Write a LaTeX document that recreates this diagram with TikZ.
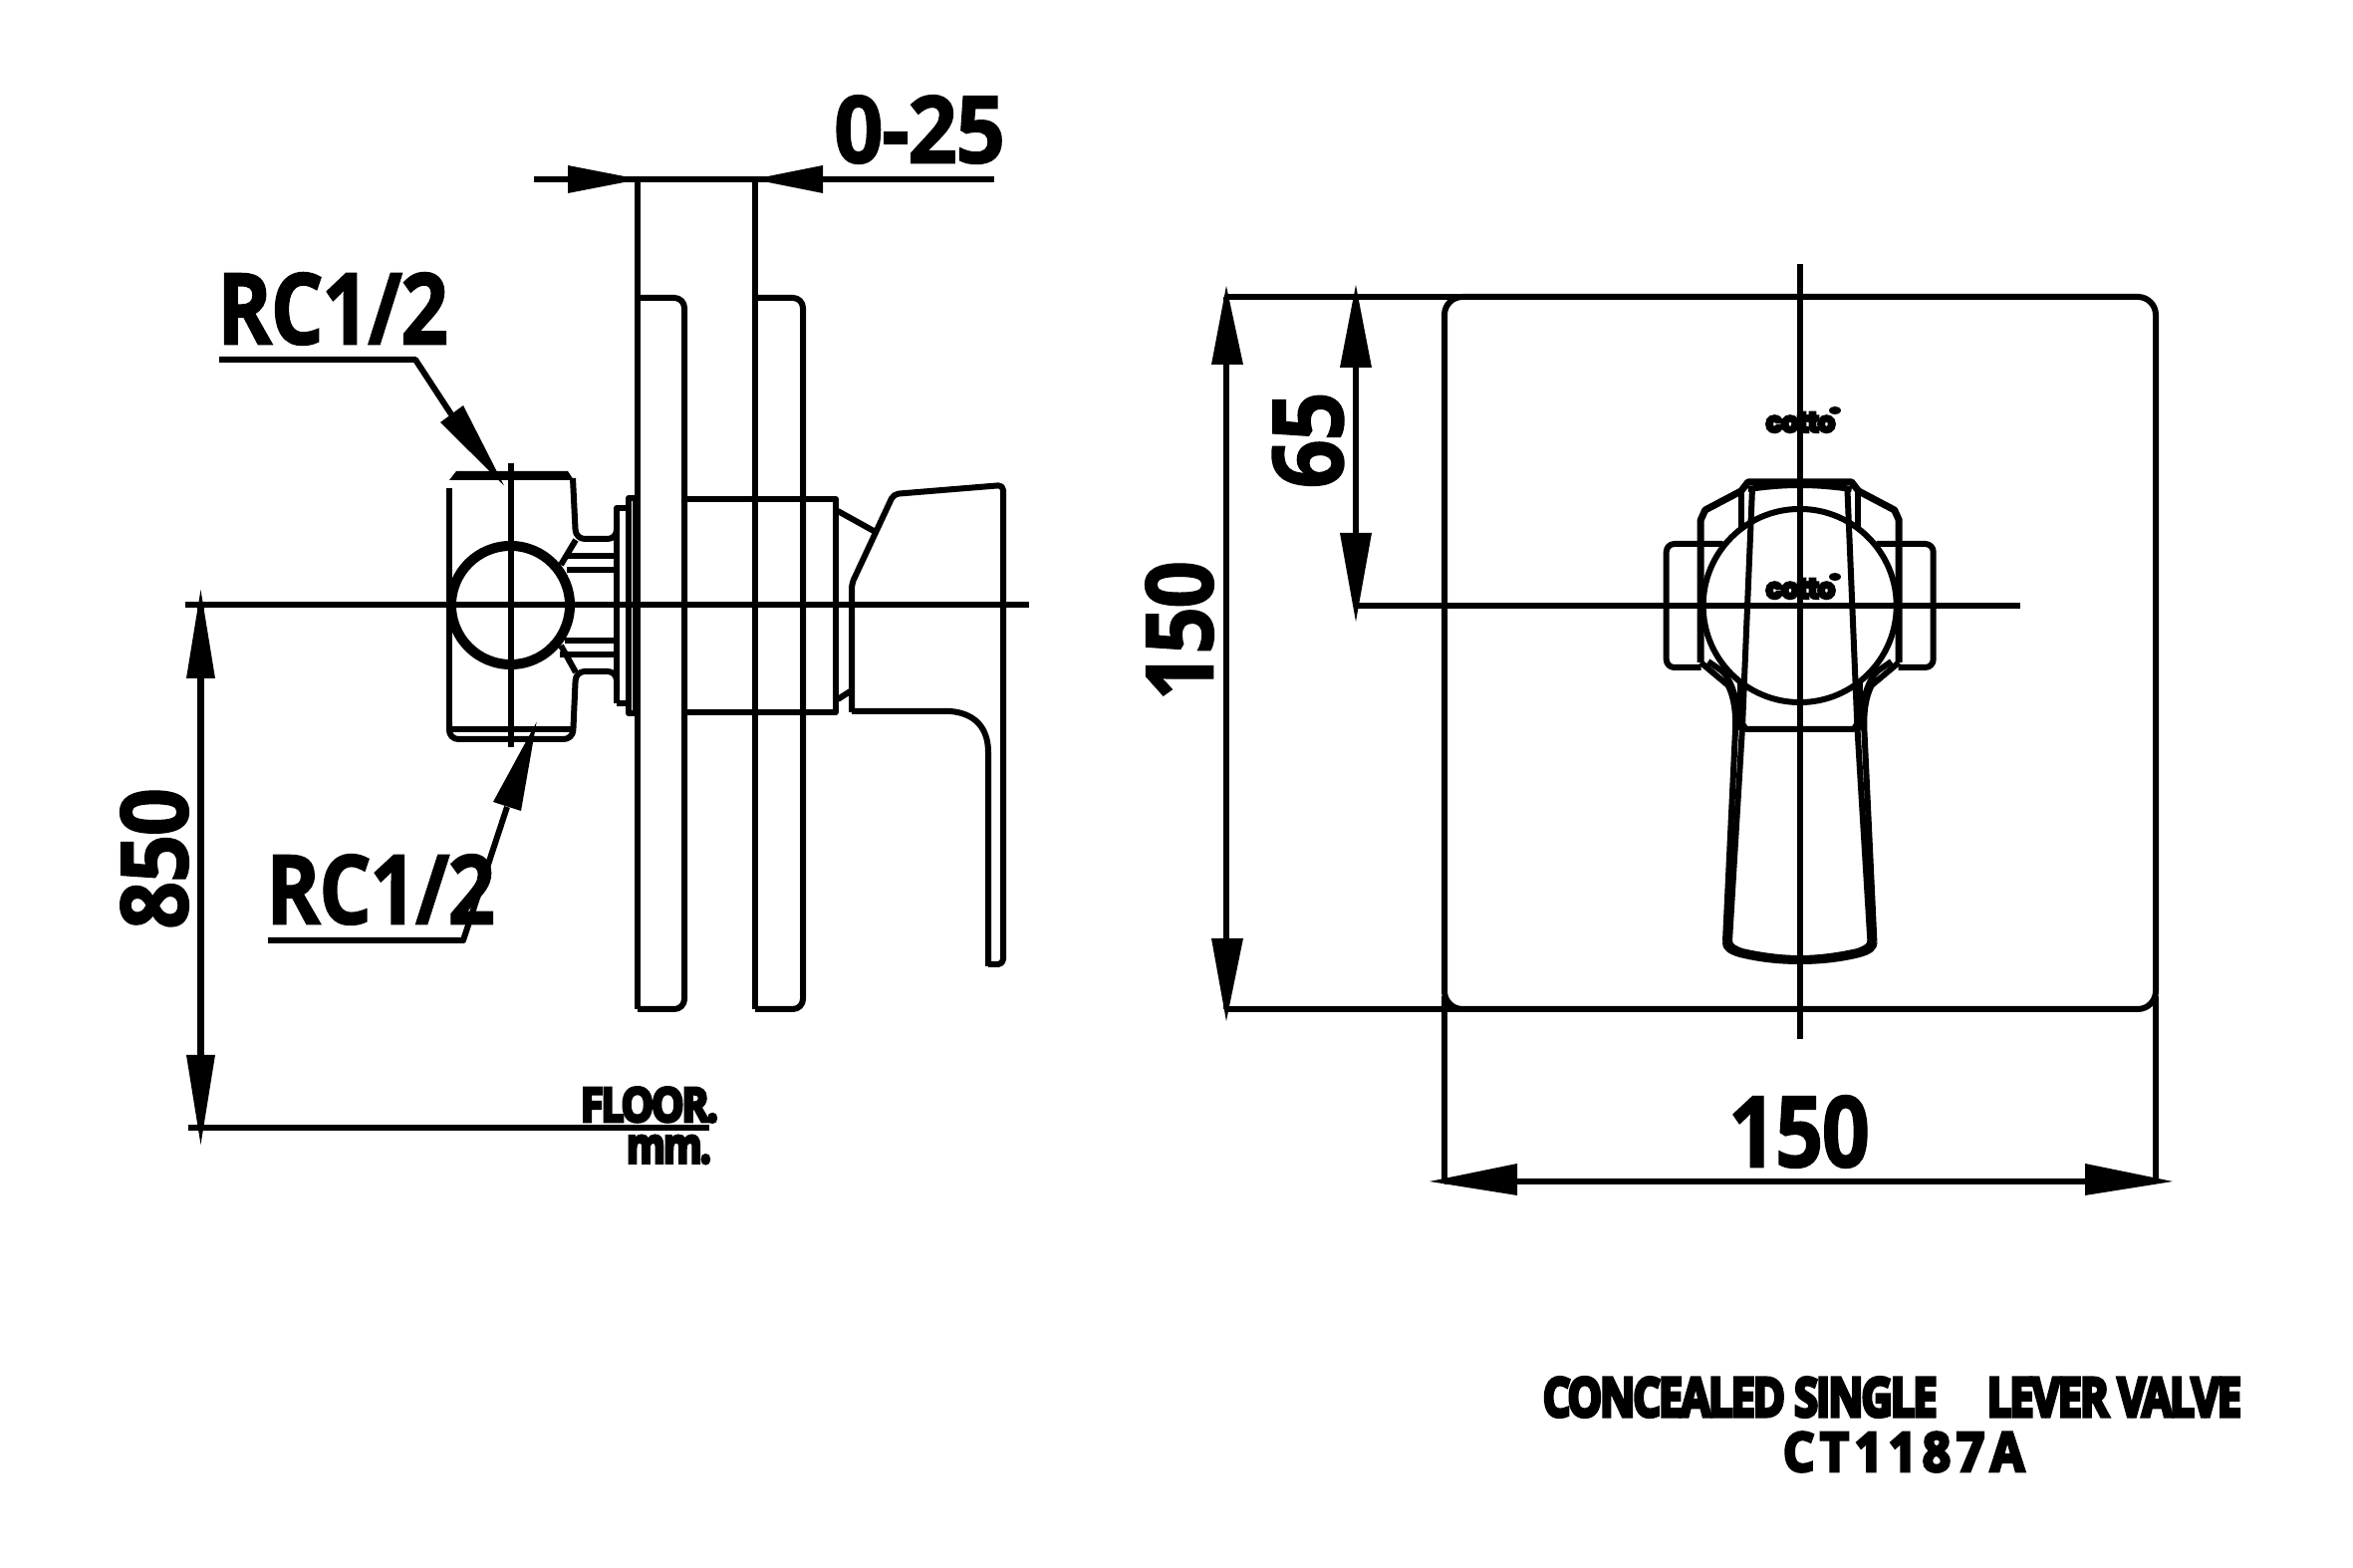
\documentclass[tikz,border=0pt]{standalone}
\usepackage{fontspec}
\setmainfont{Open Sans}
\newfontfamily\dimfont[BoldFeatures={FakeBold=1.5,LetterSpace=-2}]{Open Sans}
\newfontfamily\heavyfont[BoldFeatures={FakeBold=7,LetterSpace=-5}]{Open Sans}
\newfontfamily\wideheavy[BoldFeatures={FakeBold=6,LetterSpace=12}]{Open Sans}
\newfontfamily\logofont[BoldFeatures={FakeBold=12,LetterSpace=-3}]{Poppins}
\newcommand{\fit}[3]{\resizebox{#1cm}{#2cm}{#3}}
\tikzset{
  ln/.style={line width=0.06cm,line join=round,black},
  thin line/.style={line width=0.025cm,black},
  head/.style={fill=black,draw=none},
  label/.style={inner sep=0pt,outer sep=0pt,font=\dimfont\bfseries,text=black},
}
\begin{document}
\begin{tikzpicture}[x=0.01cm,y=-0.01cm]
\useasboundingbox[fill=white] (0,0) rectangle (2362,1574);

% ---------- left view: centre lines ----------
\draw[ln] (186,607.5) -- (1033,607.5);
\draw[ln] (512.5,465) -- (512.5,750);

% junction box with neck and flange
\draw[ln] (451,490) -- (451,730);
\draw[ln] (451,732) -- (576,732);
\fill[black] (451,482) -- (458,473) -- (570,473) -- (576,482) -- cycle;
\draw[ln,rounded corners=0.09cm] (575,480) -- (578,541) -- (619,541) -- (619,520);
\draw[ln,rounded corners=0.09cm] (451,725) -- (451,742) -- (575,742) -- (578,674) -- (619,674) -- (619,695);
\draw[ln] (619,706) -- (619,510) -- (631,510);
\draw[ln] (619,706) -- (631,706);
\draw[ln] (640,500) -- (631,500) -- (631,716) -- (640,716);
\draw[line width=0.1cm,black] (512.5,607.5) circle[radius=0.595cm];
\draw[thin line] (636,500) -- (636,716);
\draw[ln] (567,558) -- (618,558);
\draw[ln] (569,572.5) -- (618,572.5);
\draw[ln] (567,643) -- (618,643);
\draw[ln] (562,657.5) -- (618,657.5);
\draw[ln] (578,542) -- (563,567);
\draw[ln] (563,648) -- (578,675);

% plates
\draw[ln] (640,180) -- (640,1013);
\draw[ln,rounded corners=0.1cm] (640,299) -- (687,299) -- (687,1013) -- (640,1013);
\draw[ln] (758,180) -- (758,1013);
\draw[ln,rounded corners=0.1cm] (758,299) -- (806,299) -- (806,1013) -- (758,1013);

% body and lever
\draw[ln] (687,501) -- (839,501) -- (839,715) -- (687,715);
\draw[ln] (841,513) -- (877,533);
\draw[ln] (841,702) -- (855,693);
\draw[ln,rounded corners=0.05cm] (855,715) -- (855,586) -- (897,496) -- (1007,487) -- (1007,968) -- (992,968);
\draw[ln] (855,714) -- (954,714) .. controls (978,716) and (992,730) .. (992,755) -- (992,970);

% ---------- left view: dimensions ----------
\draw[ln] (536,180) -- (998,180);
\fill[head] (642,180) -- (570,166) -- (570,194) -- cycle;
\fill[head] (756,180) -- (826,166) -- (826,194) -- cycle;
\node[label] (dimgap) at (923,130) {\fit{1.72}{0.68}{0-25}};

\node[label] (rctop) at (334,310) {\fit{2.32}{0.72}{RC1/2}};
\draw[ln] (220,361) -- (417,361) -- (453,416);
\fill[head] (506,487.5) -- (442,424) -- (465,407) -- cycle;

\node[label] (rcbot) at (382,893) {\fit{2.30}{0.70}{RC1/2}};
\draw[ln] (269,944) -- (465,944) -- (509,810);
\fill[head] (538.6,725) -- (495,805) -- (523,814) -- cycle;

\draw[ln] (201.5,607.5) -- (201.5,1132);
\fill[head] (201.5,592) -- (187,681) -- (216,681) -- cycle;
\fill[head] (201.5,1149) -- (187,1059) -- (216,1059) -- cycle;
\draw[ln] (189,1132) -- (712,1132);
\node[label,rotate=90] (dimfloor) at (155,862) {\fit{1.42}{0.68}{850}};
\node[label] (floorlab) at (652,1109) {\fit{1.38}{0.34}{\heavyfont\bfseries FLOOR.}};
\node[label] (mmlab) at (671.5,1154) {\fit{0.85}{0.27}{\heavyfont\bfseries mm.}};

% ---------- right view ----------
\draw[ln,rounded corners=0.18cm] (1450,298) rectangle (2164,1013);
\draw[ln] (1231,298) -- (1465,298);
\draw[ln] (1231,1013) -- (1465,1013);
\draw[ln] (1450,1000) -- (1450,1186);
\draw[ln] (2164,1000) -- (2164,1186);
\draw[ln] (1806.7,265) -- (1806.7,1043);
\draw[ln] (1361,608) -- (2028,608);
\draw[ln] (1806.7,608) circle[radius=0.97cm];

\foreach \s in {-0.01cm,0.01cm}{
\begin{scope}[shift={(1806.7,0)},x=\s]
  \draw[ln,rounded corners=0.08cm] (77,546) -- (134,546) -- (134,670) -- (99,670);
  \draw[ln,line width=0.07cm] (99.5,665) -- (99.5,522) -- (95,512) -- (59,493) -- (52,484) -- (0,484);
  \draw[ln] (52,491) .. controls (30,488) and (15,487) .. (0,487);
  \draw[ln] (58.7,493) -- (58.7,529);
  \draw[ln] (47.7,490) -- (57.7,730);
  \draw[ln] (60,683) -- (60,728);
  \draw[ln] (58,726) -- (54,732) -- (0,732);
  \draw[ln] (99.5,665) -- (72,688) .. controls (66,700) and (64,715) .. (64.7,733) -- (74.7,945);
  \draw[ln] (92,664) -- (79,673) .. controls (70,680) and (62,700) .. (60,733);
  \draw[ln] (57.7,730) -- (70.7,945);
  \draw[ln] (75,945) .. controls (75,952) and (70,955) .. (60,958) .. controls (40,963) and (20,965) .. (0,965);
  \draw[ln] (70.7,945) .. controls (70,950) and (66,952) .. (58,955) .. controls (40,959) and (20,962) .. (0,962);
\end{scope}
}

% logos
\node[label] (logoa) at (1807.5,424) {\fit{0.69}{0.19}{\logofont\bfseries cotto}};
\node[label] (logoam) at (1842,414) {\fit{0.11}{0.10}{\logofont\bfseries ®}};
\node[label] (logob) at (1807.5,591) {\fit{0.69}{0.19}{\logofont\bfseries cotto}};
\node[label] (logobm) at (1842,581) {\fit{0.11}{0.10}{\logofont\bfseries ®}};

% right view dimensions
\draw[ln] (1231,298) -- (1231,1013);
\fill[head] (1231,287) -- (1216,366) -- (1248,366) -- cycle;
\fill[head] (1231,1025) -- (1216,942) -- (1248,942) -- cycle;
\node[label,rotate=90] (dimh) at (1184,633) {\fit{1.40}{0.68}{150}};

\draw[ln] (1361,298) -- (1361,608);
\fill[head] (1361,286) -- (1345,369) -- (1377,369) -- cycle;
\fill[head] (1361,624) -- (1345,535) -- (1377,535) -- cycle;
\node[label,rotate=90] (dimv) at (1313,442) {\fit{0.97}{0.71}{65}};

\draw[ln] (1450,1186) -- (2164,1186);
\fill[head] (1435,1186) -- (1523,1168) -- (1523,1200) -- cycle;
\fill[head] (2181,1186) -- (2093,1168) -- (2093,1200) -- cycle;
\node[label] (dimw) at (1806,1136) {\fit{1.42}{0.72}{150}};

% title
\node[label] (titlea) at (1899.5,1402.5) {\fit{7.01}{0.39}{\heavyfont\bfseries CONCEALED SINGLE\hspace{1.15em}LEVER VALVE}};
\node[label] (titleb) at (1911,1457.5) {\fit{2.42}{0.39}{\wideheavy\bfseries CT1187A}};
\end{tikzpicture}
\end{document}
